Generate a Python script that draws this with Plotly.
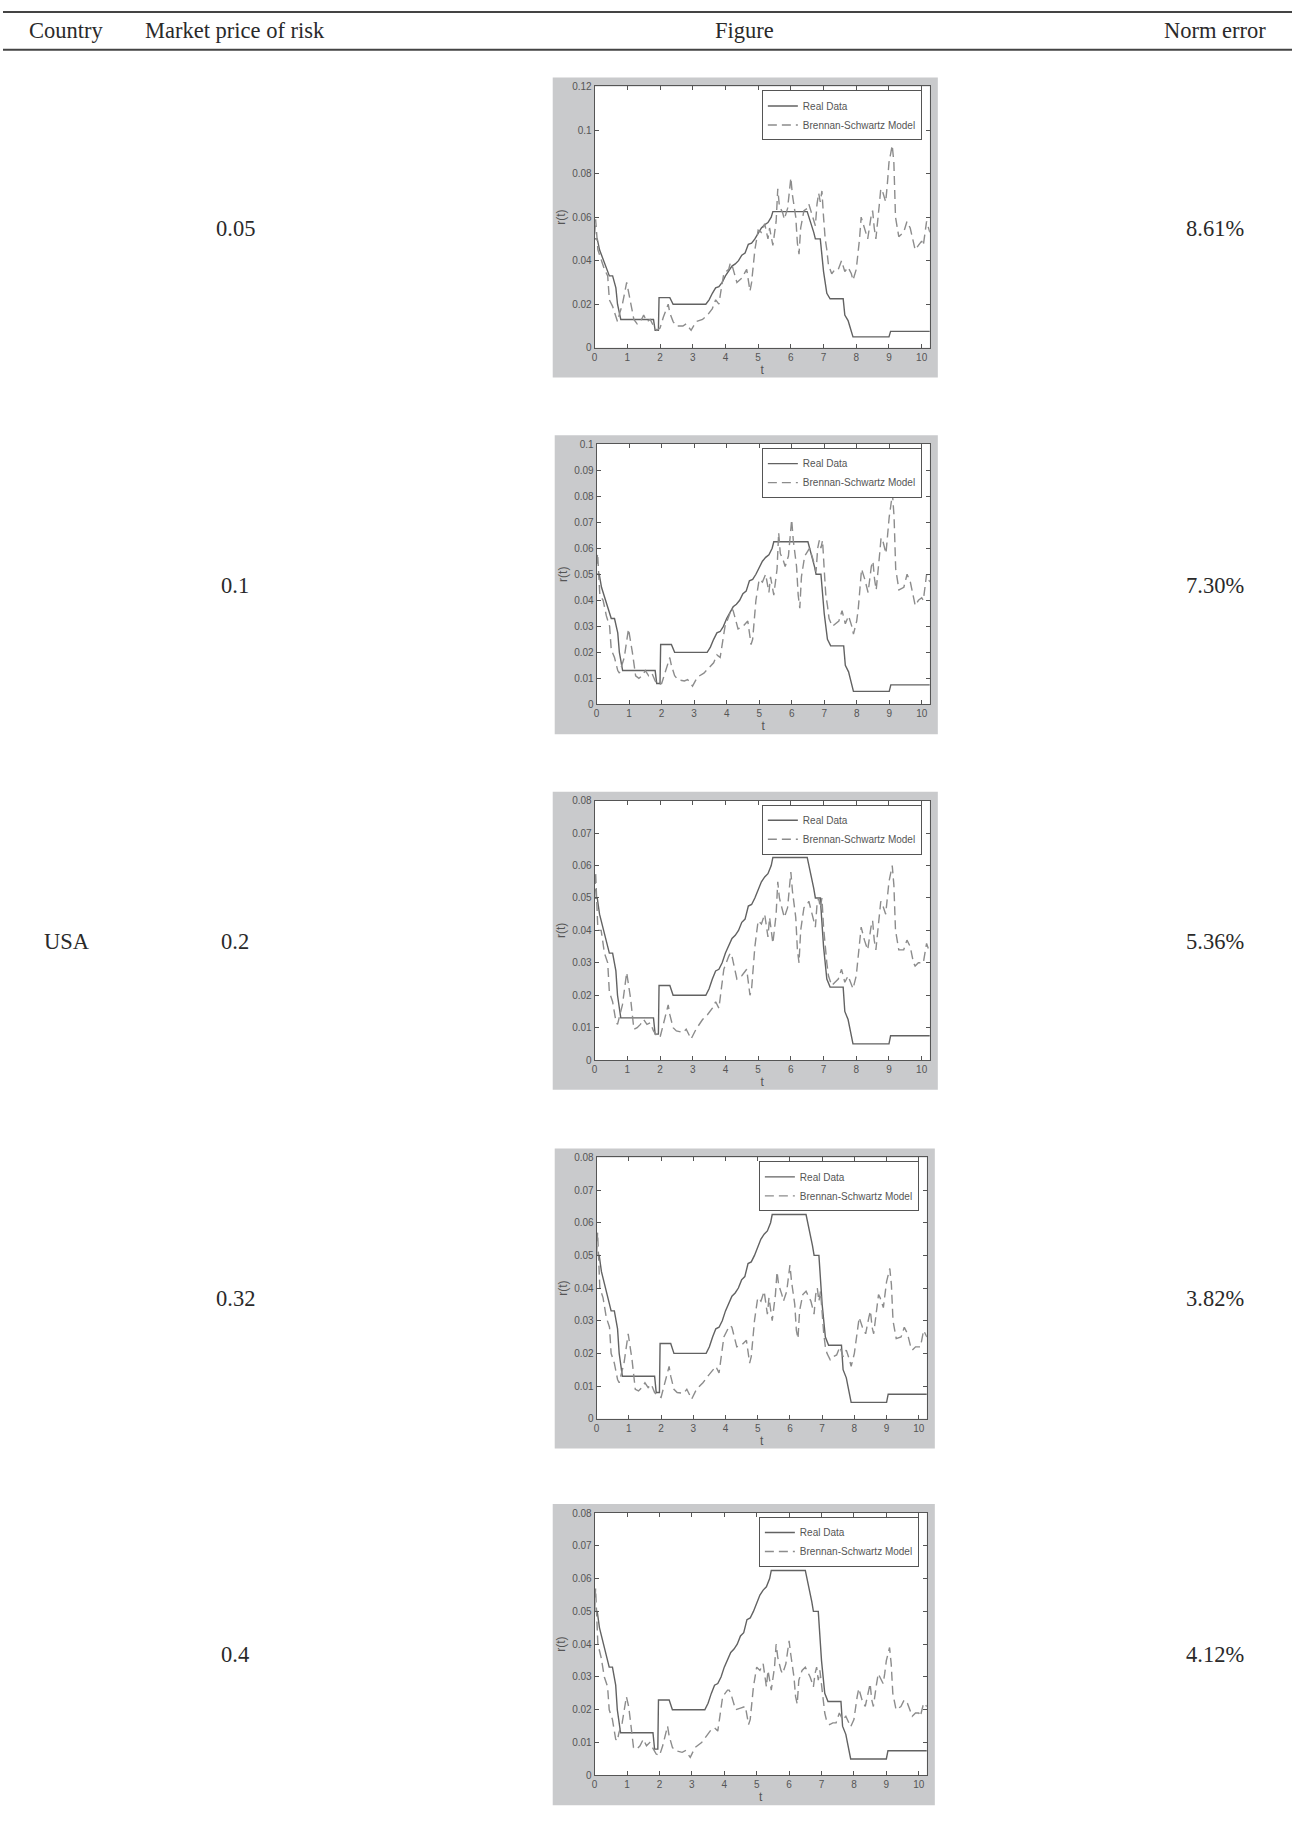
import plotly.graph_objects as go

W, H = 1292, 1831

# ---------------- table content ----------------
header = ["Country", "Market price of risk", "Figure", "Norm error"]
country = "USA"
market_price_of_risk = ["0.05", "0.1", "0.2", "0.32", "0.4"]
norm_error = ["8.61%", "7.30%", "5.36%", "3.82%", "4.12%"]

# ---------------- chart data ----------------
real_t = [0, 0.08, 0.15, 0.25, 0.4, 0.45, 0.55, 0.65, 0.7, 0.8,
          1.8, 1.85, 1.95, 1.97, 2.3, 2.4, 3.4, 3.5, 3.6, 3.7,
          3.8, 3.9, 4.0, 4.1, 4.2, 4.3, 4.4, 4.5, 4.6, 4.7,
          4.8, 4.9, 5.0, 5.1, 5.2, 5.3, 5.4, 5.45, 6.5, 6.6,
          6.7, 6.75, 6.9, 7.0, 7.05, 7.1, 7.2, 7.6, 7.65, 7.75,
          7.8, 7.9, 9.0, 9.05, 10.25]
real_r = [0.05, 0.05, 0.045, 0.041, 0.035, 0.033, 0.033, 0.0275, 0.02, 0.013,
          0.013, 0.008, 0.008, 0.023, 0.023, 0.020, 0.020, 0.022, 0.025, 0.0275,
          0.028, 0.030, 0.033, 0.035, 0.0375, 0.0385, 0.040, 0.0425, 0.0435, 0.0475,
          0.048, 0.05, 0.0525, 0.055, 0.0565, 0.0575, 0.06, 0.0625, 0.0625, 0.058,
          0.053, 0.05, 0.05, 0.035, 0.03, 0.025, 0.0225, 0.0225, 0.015, 0.0125,
          0.01, 0.005, 0.005, 0.0075, 0.0075]

model_t = [0, 0.03, 0.1, 0.2, 0.3, 0.4, 0.45, 0.55, 0.65, 0.7,
           0.75, 0.85, 0.98, 1.05, 1.1, 1.2, 1.3, 1.4, 1.5, 1.6,
           1.7, 1.8, 1.9, 2.0, 2.1, 2.25, 2.3, 2.4, 2.5, 2.7,
           2.8, 2.95, 3.1, 3.3, 3.45, 3.6, 3.7, 3.8, 3.85, 3.95,
           4.1, 4.15, 4.2, 4.35, 4.5, 4.65, 4.75, 4.8, 4.9, 5.0,
           5.1, 5.2, 5.3, 5.35, 5.45, 5.55, 5.6, 5.65, 5.75, 5.8,
           5.9, 6.0, 6.05, 6.15, 6.2, 6.25, 6.3, 6.4, 6.5, 6.55,
           6.65, 6.75, 6.8, 6.85, 6.9, 6.95, 7.0, 7.05, 7.1, 7.15,
           7.25, 7.35, 7.45, 7.55, 7.65, 7.75, 7.85, 7.9, 8.0, 8.05,
           8.1, 8.15, 8.25, 8.35, 8.45, 8.5, 8.55, 8.6, 8.7, 8.75,
           8.8, 8.9, 8.95, 9.0, 9.1, 9.15, 9.2, 9.3, 9.45, 9.55,
           9.65, 9.75, 9.8, 9.9, 10.0, 10.05, 10.15, 10.25]

model_005 = [0.052, 0.059, 0.045, 0.040, 0.036, 0.033, 0.022, 0.019, 0.014, 0.012,
             0.015, 0.020, 0.030, 0.025, 0.020, 0.013, 0.011, 0.012, 0.015, 0.012,
             0.013, 0.010, 0.008, 0.009, 0.014, 0.020, 0.016, 0.012, 0.010, 0.010,
             0.011, 0.008, 0.012, 0.013, 0.015, 0.018, 0.022, 0.020, 0.025, 0.034,
             0.036, 0.039, 0.038, 0.030, 0.032, 0.036, 0.026, 0.030, 0.045, 0.054,
             0.053, 0.057, 0.050, 0.055, 0.047, 0.058, 0.073, 0.065, 0.062, 0.059,
             0.064, 0.078, 0.070, 0.060, 0.048, 0.043, 0.055, 0.063, 0.064, 0.066,
             0.061, 0.056, 0.066, 0.071, 0.067, 0.072, 0.060, 0.050, 0.045, 0.038,
             0.034, 0.036, 0.036, 0.040, 0.035, 0.037, 0.034, 0.031, 0.036, 0.042,
             0.050, 0.060, 0.055, 0.050, 0.060, 0.063, 0.055, 0.050, 0.065, 0.073,
             0.072, 0.067, 0.075, 0.085, 0.093, 0.085, 0.060, 0.051, 0.053, 0.058,
             0.055, 0.048, 0.045, 0.047, 0.049, 0.047, 0.058, 0.053]

model_01 = [0.054, 0.058, 0.042, 0.040, 0.034, 0.030, 0.021, 0.018, 0.013, 0.012,
            0.014, 0.018, 0.029, 0.024, 0.020, 0.011, 0.010, 0.011, 0.013, 0.011,
            0.012, 0.009, 0.0075, 0.008, 0.012, 0.018, 0.015, 0.011, 0.0095, 0.009,
            0.0095, 0.007, 0.0105, 0.012, 0.014, 0.016, 0.019, 0.018, 0.022, 0.030,
            0.035, 0.037, 0.036, 0.029, 0.030, 0.032, 0.023, 0.025, 0.040, 0.048,
            0.047, 0.050, 0.043, 0.049, 0.042, 0.052, 0.066, 0.058, 0.055, 0.053,
            0.057, 0.071, 0.063, 0.053, 0.042, 0.037, 0.049, 0.057, 0.059, 0.060,
            0.056, 0.051, 0.060, 0.063, 0.060, 0.063, 0.052, 0.042, 0.038, 0.033,
            0.030, 0.031, 0.032, 0.036, 0.031, 0.034, 0.030, 0.027, 0.032, 0.037,
            0.045, 0.052, 0.048, 0.043, 0.053, 0.055, 0.048, 0.044, 0.057, 0.064,
            0.063, 0.058, 0.065, 0.072, 0.081, 0.072, 0.052, 0.044, 0.045, 0.050,
            0.047, 0.041, 0.038, 0.040, 0.041, 0.040, 0.050, 0.047]

model_02 = [0.050, 0.058, 0.040, 0.040, 0.033, 0.030, 0.021, 0.018, 0.012, 0.011,
            0.013, 0.017, 0.027, 0.023, 0.019, 0.0095, 0.010, 0.011, 0.0125, 0.011,
            0.0115, 0.009, 0.0075, 0.007, 0.011, 0.017, 0.014, 0.010, 0.009, 0.0085,
            0.0095, 0.0065, 0.0095, 0.0125, 0.014, 0.016, 0.018, 0.016, 0.020, 0.028,
            0.032, 0.033, 0.032, 0.025, 0.026, 0.028, 0.020, 0.022, 0.035, 0.043,
            0.042, 0.045, 0.038, 0.044, 0.036, 0.045, 0.055, 0.050, 0.046, 0.044,
            0.047, 0.058, 0.052, 0.044, 0.034, 0.030, 0.040, 0.047, 0.048, 0.049,
            0.045, 0.041, 0.048, 0.050, 0.047, 0.050, 0.041, 0.034, 0.030, 0.026,
            0.023, 0.024, 0.025, 0.028, 0.024, 0.026, 0.023, 0.022, 0.026, 0.031,
            0.036, 0.041, 0.037, 0.034, 0.041, 0.043, 0.037, 0.034, 0.044, 0.049,
            0.048, 0.045, 0.050, 0.055, 0.060, 0.054, 0.040, 0.034, 0.034, 0.037,
            0.035, 0.030, 0.029, 0.030, 0.030, 0.030, 0.036, 0.033]

model_032 = [0.050, 0.057, 0.040, 0.037, 0.031, 0.028, 0.020, 0.017, 0.012, 0.011,
             0.013, 0.017, 0.026, 0.022, 0.018, 0.009, 0.0085, 0.0095, 0.011, 0.0095,
             0.0105, 0.008, 0.007, 0.0065, 0.010, 0.016, 0.013, 0.009, 0.008, 0.0078,
             0.009, 0.006, 0.009, 0.011, 0.013, 0.015, 0.016, 0.014, 0.018, 0.025,
             0.028, 0.0285, 0.028, 0.022, 0.0225, 0.024, 0.017, 0.019, 0.030, 0.037,
             0.036, 0.039, 0.032, 0.037, 0.030, 0.038, 0.045, 0.041, 0.038, 0.036,
             0.039, 0.047, 0.042, 0.035, 0.027, 0.0245, 0.033, 0.038, 0.039, 0.038,
             0.036, 0.032, 0.038, 0.040, 0.036, 0.039, 0.032, 0.026, 0.022, 0.020,
             0.018, 0.019, 0.0195, 0.022, 0.019, 0.021, 0.018, 0.016, 0.020, 0.024,
             0.028, 0.031, 0.028, 0.026, 0.031, 0.033, 0.028, 0.026, 0.034, 0.038,
             0.037, 0.034, 0.038, 0.042, 0.046, 0.041, 0.030, 0.0245, 0.025, 0.028,
             0.026, 0.022, 0.021, 0.022, 0.022, 0.022, 0.027, 0.025]

model_04 = [0.050, 0.057, 0.040, 0.036, 0.030, 0.027, 0.020, 0.017, 0.011, 0.0105,
            0.013, 0.016, 0.024, 0.021, 0.017, 0.0085, 0.008, 0.009, 0.011, 0.009,
            0.010, 0.008, 0.0065, 0.006, 0.009, 0.015, 0.012, 0.0085, 0.0075, 0.007,
            0.0075, 0.0055, 0.0085, 0.010, 0.012, 0.014, 0.0145, 0.0135, 0.017, 0.024,
            0.026, 0.026, 0.025, 0.020, 0.0205, 0.021, 0.0155, 0.017, 0.027, 0.033,
            0.032, 0.034, 0.027, 0.032, 0.026, 0.033, 0.040, 0.036, 0.032, 0.031,
            0.034, 0.041, 0.037, 0.030, 0.024, 0.0217, 0.029, 0.032, 0.033, 0.032,
            0.030, 0.027, 0.031, 0.033, 0.029, 0.032, 0.027, 0.022, 0.019, 0.017,
            0.0155, 0.016, 0.016, 0.019, 0.017, 0.018, 0.016, 0.0148, 0.017, 0.021,
            0.024, 0.0265, 0.023, 0.021, 0.026, 0.028, 0.023, 0.021, 0.028, 0.031,
            0.030, 0.028, 0.031, 0.035, 0.039, 0.034, 0.025, 0.020, 0.021, 0.023,
            0.022, 0.019, 0.018, 0.019, 0.019, 0.018, 0.022, 0.021]

models = [model_005, model_01, model_02, model_032, model_04]
y_max = [0.12, 0.1, 0.08, 0.08, 0.08]
y_dtick = [0.02, 0.01, 0.01, 0.01, 0.01]
x_max = 10.25

for m in models:
    assert len(m) == len(model_t), len(m)

# ---------------- layout geometry (pixels) ----------------
axes_px = [(593, 929, 81, 344),
           (595, 929, 441, 703),
           (593, 929, 800, 1061),
           (595, 926, 1159, 1422),
           (593, 926, 1517, 1781)]
row_y = [224, 583, 942, 1301, 1659]
col_x = [64, 233, 743, 1215]

def px(x):
    return x / W

def py(y):
    return 1 - y / H

fig = go.Figure()
layout = dict(
    width=W, height=H,
    margin=dict(l=0, r=0, t=0, b=0),
    paper_bgcolor="white", plot_bgcolor="white",
    showlegend=True,
    shapes=[], annotations=[],
)

AX_COL = "#555555"
SANS = "Liberation Sans, Arial"
TICK_FONT = dict(family=SANS, size=10, color="#555555")

for i, (l, r, t, b) in enumerate(axes_px):
    k = "" if i == 0 else str(i + 1)
    xa, ya = "x" + k, "y" + k
    leg = "legend" + k
    fig.add_trace(go.Scatter(x=real_t, y=real_r, mode="lines", name="Real Data",
                             line=dict(color="#626262", width=1.4),
                             xaxis=xa, yaxis=ya, legend=leg))
    fig.add_trace(go.Scatter(x=model_t, y=models[i], mode="lines",
                             name="Brennan-Schwartz Model",
                             line=dict(color="#8c8c8c", width=1.4, dash="9px,5px"),
                             xaxis=xa, yaxis=ya, legend=leg))
    common = dict(showline=True, linecolor=AX_COL, linewidth=1, mirror="ticks",
                  ticks="inside", ticklen=4, tickcolor=AX_COL, showgrid=False,
                  zeroline=False, tickfont=TICK_FONT, fixedrange=True)
    layout["xaxis" + k] = dict(common, domain=[px(l), px(r)], anchor=ya,
                               range=[0, x_max], dtick=1, tick0=0,
                               title=dict(text="t", standoff=2,
                                          font=dict(family=SANS, size=12, color="#555")))
    layout["yaxis" + k] = dict(common, domain=[py(b), py(t)], anchor=xa,
                               range=[0, y_max[i]], dtick=y_dtick[i], tick0=0,
                               title=dict(text="r(t)", standoff=3,
                                          font=dict(family=SANS, size=12, color="#555")))
    layout[leg] = dict(x=px(r - 8), y=py(t + 4), xanchor="right", yanchor="top",
                       xref="paper", yref="paper",
                       bgcolor="white", bordercolor=AX_COL, borderwidth=1,
                       font=dict(family=SANS, size=10, color="#555"),
                       itemwidth=30, tracegroupgap=0, traceorder="normal")
    layout["shapes"].append(dict(type="rect", xref="paper", yref="paper",
                                 x0=px(l - 42), x1=px(r + 8), y0=py(b + 30), y1=py(t - 9),
                                 fillcolor="#c9cacc", line=dict(width=0), layer="below"))
    layout["shapes"].append(dict(type="rect", xref=xa + " domain", yref=ya + " domain",
                                 x0=0, x1=1, y0=0, y1=1,
                                 fillcolor="white", line=dict(width=0), layer="below"))

# table rules
for yy in [6, 44]:
    layout["shapes"].append(dict(type="line", xref="paper", yref="paper",
                                 x0=0, x1=1, y0=py(yy), y1=py(yy),
                                 line=dict(color="#444444", width=2)))

TXT = dict(family="Liberation Serif, Times New Roman", size=22.5, color="#2a2a2a")
for cx, h in zip(col_x, header):
    layout["annotations"].append(dict(text=h, x=px(cx), y=py(25), xref="paper", yref="paper",
                                      showarrow=False, font=TXT, xanchor="center", yanchor="middle"))
for yy, mpr, ne in zip(row_y, market_price_of_risk, norm_error):
    layout["annotations"].append(dict(text=mpr, x=px(col_x[1]), y=py(yy), xref="paper", yref="paper",
                                      showarrow=False, font=TXT, xanchor="center", yanchor="middle"))
    layout["annotations"].append(dict(text=ne, x=px(col_x[3]), y=py(yy), xref="paper", yref="paper",
                                      showarrow=False, font=TXT, xanchor="center", yanchor="middle"))
layout["annotations"].append(dict(text=country, x=px(col_x[0]), y=py(row_y[2]), xref="paper", yref="paper",
                                  showarrow=False, font=TXT, xanchor="center", yanchor="middle"))

fig.update_layout(**layout)
fig.write_html("out.html",
               config={"displayModeBar": False},
               post_script="document.body.style.margin='0px';document.body.style.overflow='hidden';")
